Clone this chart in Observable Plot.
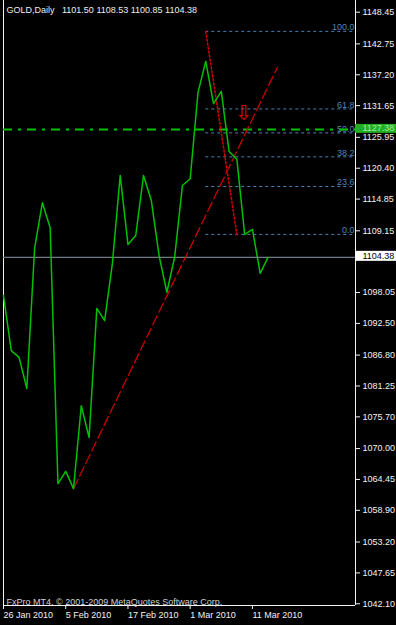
<!DOCTYPE html>
<html><head><meta charset="utf-8">
<script src="https://cdn.jsdelivr.net/npm/d3@7"></script>
<script src="https://cdn.jsdelivr.net/npm/@observablehq/plot@0.6"></script>
<style>
html,body{margin:0;padding:0;background:#000;overflow:hidden;}
#chart{width:396px;height:625px;}
</style></head><body><div id="chart"></div>
<script>
// Bars (daily) – index = bar number
const dates = ["26 Jan 2010","27 Jan 2010","28 Jan 2010","29 Jan 2010","1 Feb 2010","2 Feb 2010","3 Feb 2010","4 Feb 2010","5 Feb 2010",
  "8 Feb 2010","9 Feb 2010","10 Feb 2010","11 Feb 2010","12 Feb 2010","15 Feb 2010","16 Feb 2010","17 Feb 2010","18 Feb 2010","19 Feb 2010",
  "22 Feb 2010","23 Feb 2010","24 Feb 2010","25 Feb 2010","26 Feb 2010","1 Mar 2010","2 Mar 2010","3 Mar 2010","4 Mar 2010","5 Mar 2010",
  "8 Mar 2010","9 Mar 2010","10 Mar 2010","11 Mar 2010","12 Mar 2010","15 Mar 2010"];
const closes = [1097.5, 1087.6, 1086.4, 1080.8, 1106.0, 1114.2, 1109.7, 1063.7, 1065.9, 1062.8,
  1077.7, 1072.0, 1095.2, 1093.0, 1103.3, 1119.1, 1106.7, 1108.3, 1119.1, 1114.6,
  1104.7, 1098.1, 1104.4, 1117.3, 1118.5, 1134.0, 1139.6, 1132.0, 1134.2, 1123.4,
  1122.0, 1108.5, 1109.4, 1101.5, 1104.38];
const xTickIndex = [0, 8, 16, 24, 32];
// (the 1103.60 tick sits under the current-price box and is not shown)
const yTicks = [1148.45, 1142.75, 1137.20, 1131.65, 1125.95, 1120.40, 1114.85, 1109.15,
  1098.05, 1092.50, 1086.80, 1081.25, 1075.70, 1070.00, 1064.45, 1058.90, 1053.20, 1047.65, 1042.10];
const xDomain = [0, 45.25];
const yDomain = [1041.79, 1150.55];

// Fibonacci retracement
const fibLevels = [0, 23.6, 38.2, 50, 61.8, 100];
const fibBars = [26, 30];
const fibPrices = [1145.0, 1108.5];

// Trend line
const trendBars = [9, 35.2];
const trendPrices = [1062.8, 1138.5];

// Horizontal lines & markers
const currentPrice = [1104.38];
const hLinePrice = [1127.38];
const arrowBars = [30.9];
const arrowPrices = [1130.4];

const ohlc = ["1101.50", "1108.53", "1100.85", "1104.38"];
const titleText = "GOLD,Daily\u00a0\u00a0 " + ohlc.join(" ");
const footerText = "FxPro MT4, \u00a9 2001-2009 MetaQuotes Software Corp.";

const fibHigh = fibPrices[0], fibLow = fibPrices[1];
const fibPrice = l => fibLow + (fibHigh - fibLow) * l / 100;
const xMax = xDomain[1];

const chart = Plot.plot({
  width: 396, height: 625,
  marginLeft: 3, marginRight: 41, marginTop: 0, marginBottom: 20,
  style: {background: "#000", fontFamily: "'Liberation Sans', Arial, sans-serif", fontSize: "9px", color: "#f2f2f2"},
  x: {domain: xDomain},
  y: {domain: yDomain},
  marks: [
    Plot.axisX({ticks: xTickIndex, tickFormat: i => dates[i], tickSize: 4, tickPadding: 2, textAnchor: "start", label: null}),
    Plot.axisY({anchor: "right", ticks: yTicks, tickFormat: d => d.toFixed(2), tickSize: 4, tickPadding: 3, label: null}),
    Plot.ruleX([xDomain[0], xDomain[1]], {stroke: "#f2f2f2"}),
    Plot.ruleY([yDomain[0]], {stroke: "#f2f2f2"}),
    Plot.ruleY(currentPrice, {stroke: "#6f7b87", strokeWidth: 1.3}),
    Plot.ruleY(fibLevels, {y: fibPrice, x1: fibBars[0], x2: xMax, stroke: "#4a7fae", strokeDasharray: "3,3"}),
    Plot.text(fibLevels, {x: xMax, y: fibPrice, text: l => l.toFixed(1), textAnchor: "end", lineAnchor: "bottom", dx: -1, dy: -1, fill: "#4f84b4"}),
    Plot.ruleY(hLinePrice, {stroke: "#00c000", strokeWidth: 2, strokeDasharray: "9,6,3,6"}),
    Plot.line(fibBars, {x: b => b, y: (b, i) => fibPrices[i], stroke: "#d00000", strokeWidth: 1.5, strokeDasharray: "2,2"}),
    Plot.line(trendBars, {x: b => b, y: (b, i) => trendPrices[i], stroke: "#c80000", strokeWidth: 1.3, strokeDasharray: "10,4"}),
    Plot.line(closes, {x: (d, i) => i, y: d => d, stroke: "#00c000", strokeWidth: 1.5}),
    Plot.text(arrowBars, {x: b => b, y: (b, i) => arrowPrices[i], text: () => "\u21e9", fill: "#e00000", fontSize: 21, dy: 1, fontFamily: "DejaVu Sans"}),
    Plot.rect(hLinePrice, {x1: xMax, x2: xMax, y1: d => d, y2: d => d, insetRight: -41, insetTop: -5, insetBottom: -4, fill: "#1fb01f"}),
    Plot.text(hLinePrice, {x: xMax, y: d => d, text: d => d.toFixed(2), textAnchor: "start", dx: 7, dy: -1, fill: "#a8e8a8"}),
    Plot.rect(currentPrice, {x1: xMax, x2: xMax, y1: d => d, y2: d => d, insetRight: -41, insetTop: -6, insetBottom: -4, fill: "#ffffff"}),
    Plot.text(currentPrice, {x: xMax, y: d => d, text: d => d.toFixed(2), textAnchor: "start", dx: 7, dy: -1, fill: "#000"}),
    Plot.text([titleText], {frameAnchor: "top-left", dx: 3, dy: 6, lineAnchor: "top", fill: "#eeeeee"}),
    Plot.text([footerText], {frameAnchor: "bottom-left", dx: 3, dy: -1, lineAnchor: "bottom", fill: "#d0d0d0"})
  ]
});
document.getElementById("chart").appendChild(chart);
</script>
</body></html>
